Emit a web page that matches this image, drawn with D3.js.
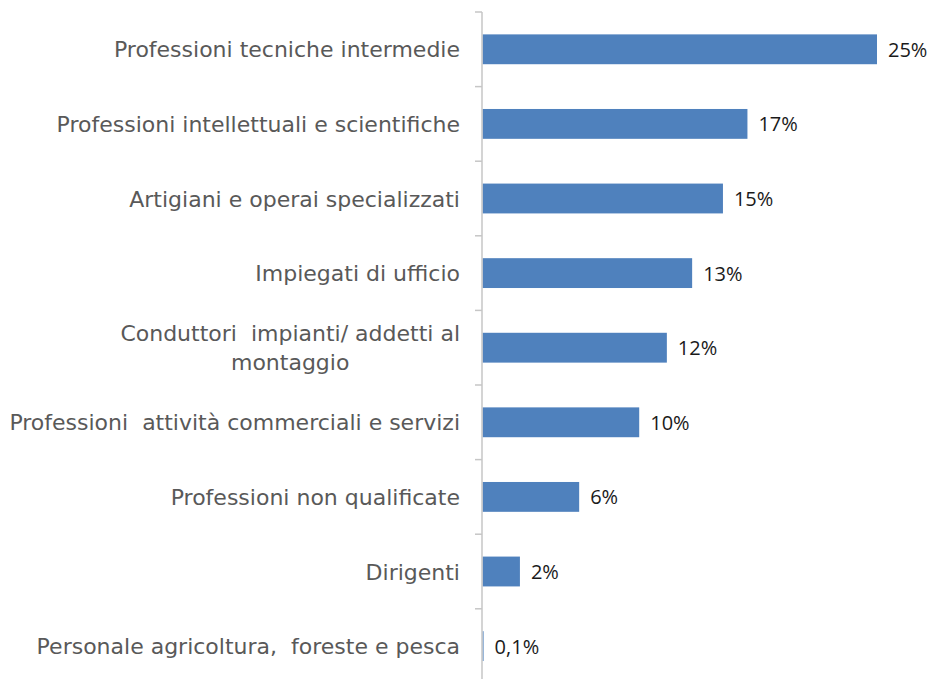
<!DOCTYPE html>
<html lang="it">
<head>
    <meta charset="UTF-8">
    <title>Professioni</title>
    <script src="https://d3js.org/d3.v7.min.js"></script>
    <style>
        body { margin: 0; background: #fff; }
        .cat { font-family: "DejaVu Sans", sans-serif; font-size: 22px; fill: #595959; white-space: pre; }
        .val { font-family: "Open Sans", sans-serif; font-size: 20px; fill: #1a1a1a; }
    </style>
</head>
<body>
<div id="chart"></div>
<script>
    // Data
    const categories = [
        "Professioni tecniche intermedie",
        "Professioni intellettuali e scientifiche",
        "Artigiani e operai specializzati",
        "Impiegati di ufficio",
        "Conduttori  impianti/ addetti al|montaggio",
        "Professioni  attività commerciali e servizi",
        "Professioni non qualificate",
        "Dirigenti",
        "Personale agricoltura,  foreste e pesca"
    ];
    const values = [25.0, 16.8, 15.25, 13.3, 11.7, 9.95, 6.15, 2.4, 0.1];
    const valueLabels = ["25%", "17%", "15%", "13%", "12%", "10%", "6%", "2%", "0,1%"];

    const width = 931, height = 679;
    const axisX = 482;

    const svg = d3.select("#chart")
      .append("svg")
        .attr("width", width)
        .attr("height", height);

    const x = d3.scaleLinear()
        .domain([0, 25])
        .range([axisX, axisX + 395]);

    const y = d3.scaleBand()
        .domain(categories)
        .range([12, 12 + 9 * 74.6])
        .paddingInner(0.6)
        .paddingOuter(0.3);

    // Bars
    svg.selectAll(".bar")
        .data(values)
        .enter()
        .append("rect")
        .attr("class", "bar")
        .attr("x", x(0) + 0.5)
        .attr("y", (d, i) => y(categories[i]))
        .attr("width", d => Math.max(0, x(d) - x(0) - 0.5))
        .attr("height", y.bandwidth())
        .attr("fill", "#4F81BD");

    // Axis line and boundary ticks
    const step = y.step();
    const bounds = d3.range(categories.length + 1).map(i => y(categories[0]) - step * 0.3 + i * step);
    svg.append("line")
        .attr("x1", axisX).attr("x2", axisX)
        .attr("y1", bounds[0]).attr("y2", height)
        .attr("stroke", "#c6c6c6")
        .attr("stroke-width", 1.5);
    svg.selectAll(".tick-b")
        .data(bounds)
        .enter()
        .append("line")
        .attr("x1", axisX - 7).attr("x2", axisX)
        .attr("y1", d => d).attr("y2", d => d)
        .attr("stroke", "#c6c6c6")
        .attr("stroke-width", 1.5);

    // Category labels (right aligned block, lines centred inside the block)
    const labelRight = axisX - 22;
    const lineH = 29;
    categories.forEach(function(c) {
        const lines = c.split("|");
        const cy = y(c) + y.bandwidth() / 2;
        const t = svg.append("text")
            .attr("class", "cat")
            .attr("dominant-baseline", "central");
        lines.forEach(function(l, j) {
            t.append("tspan")
                .attr("y", cy + (j - (lines.length - 1) / 2) * lineH)
                .text(l);
        });
        const widths = [];
        t.selectAll("tspan").each(function() { widths.push(this.getComputedTextLength()); });
        const blockW = d3.max(widths);
        if (lines.length === 1) {
            t.attr("text-anchor", "end").selectAll("tspan").attr("x", labelRight);
        } else {
            t.attr("text-anchor", "middle").selectAll("tspan").attr("x", labelRight - blockW / 2);
        }
    });

    // Value labels
    svg.selectAll(".val")
        .data(values)
        .enter()
        .append("text")
        .attr("class", "val")
        .attr("x", d => x(d) + 11)
        .attr("y", (d, i) => y(categories[i]) + y.bandwidth() / 2)
        .attr("dominant-baseline", "central")
        .text((d, i) => valueLabels[i]);
</script>
</body>
</html>
